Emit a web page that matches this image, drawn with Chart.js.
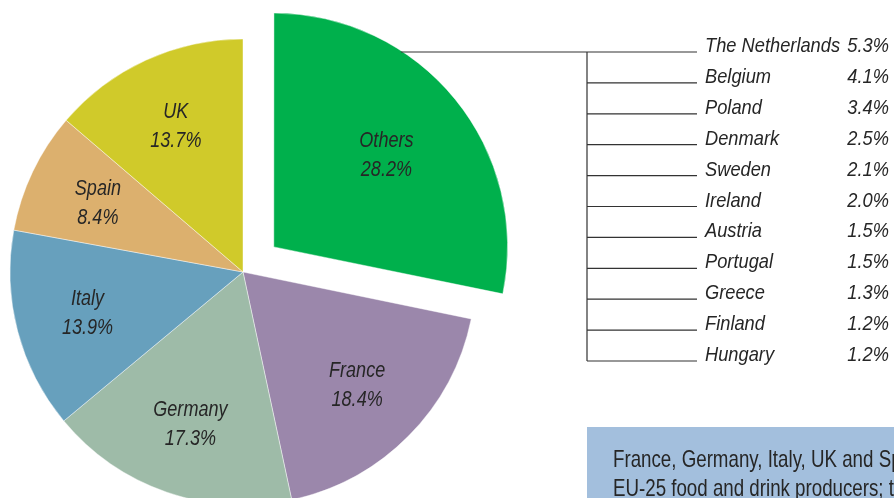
<!DOCTYPE html>
<html>
<head>
<meta charset="utf-8">
<script src="https://cdn.jsdelivr.net/npm/chart.js@4.4.0/dist/chart.umd.min.js"></script>
<style>
    html, body { margin: 0; padding: 0; background: #fff; }
    #wrap { position: relative; width: 894px; height: 498px; overflow: hidden; }
</style>
</head>
<body>
<div id="wrap"><canvas id="pie" width="894" height="498"></canvas></div>
<script>
    "use strict";

    // Shares of EU-25 food and drink production (%)
    const sliceLabels = ["Others", "France", "Germany", "Italy", "Spain", "UK"];
    const sliceShares = [28.2, 18.4, 17.3, 13.9, 8.4, 13.7];
    const sliceColors = ["#00b04c", "#9b87ab", "#9ebba8", "#67a0bd", "#dcb06e", "#d0ca2a"];
    const sliceOffsets = [159, 0, 0, 0, 0, 0];

    // breakdown of "Others"
    const otherCountries = [
        "The Netherlands", "Belgium", "Poland", "Denmark", "Sweden", "Ireland",
        "Austria", "Portugal", "Greece", "Finland", "Hungary",
    ];
    const otherShares = [5.3, 4.1, 3.4, 2.5, 2.1, 2.0, 1.5, 1.5, 1.3, 1.2, 1.2];

    const noteLines = [
        "France, Germany, Italy, UK and Spain are the largest",
        "EU-25 food and drink producers; they account for",
    ];

    const FONT = '"Liberation Sans", Arial, sans-serif';
    const INK = "#262626";

    // condensed text: the original uses a narrow face, so squeeze horizontally
    function narrowText(ctx, text, x, y, sx) {
        ctx.save();
        ctx.translate(x, y);
        ctx.scale(sx, 1);
        ctx.fillText(text, 0, 0);
        ctx.restore();
    }

    // shift applied by ArcElement.draw for an offset slice
    function arcShift(arc) {
        const off = (arc.options.offset || 0) / 4;
        const fix = 1 - Math.sin(Math.min(Math.PI, arc.circumference || 0));
        const mid = (arc.startAngle + arc.endAngle) / 2;
        const d = off + off * fix;
        return { x: arc.x + Math.cos(mid) * d, y: arc.y + Math.sin(mid) * d, mid: mid };
    }

    const sliceText = {
        id: "sliceText",
        afterDatasetsDraw(chart) {
            const ctx = chart.ctx;
            const arcs = chart.getDatasetMeta(0).data;
            ctx.save();
            ctx.fillStyle = INK;
            ctx.textAlign = "center";
            ctx.textBaseline = "middle";
            ctx.font = "italic 22px " + FONT;
            arcs.forEach((arc, i) => {
                const c = arcShift(arc);
                const r = arc.outerRadius * (arc.options.offset ? 0.62 : 0.69);
                const x = c.x + Math.cos(c.mid) * r;
                const y = c.y + Math.sin(c.mid) * r;
                narrowText(ctx, sliceLabels[i], x, y - 14, 0.82);
                narrowText(ctx, sliceShares[i].toFixed(1) + "%", x, y + 15, 0.82);
            });
            ctx.restore();
        },
    };

    const othersList = {
        id: "othersList",
        afterDatasetsDraw(chart) {
            const ctx = chart.ctx;
            const arc = chart.getDatasetMeta(0).data[0];
            const c = arcShift(arc);
            const top = 52, step = 30.9, trunkX = 587, endX = 697;
            const lastY = top + step * (otherCountries.length - 1);

            ctx.save();
            ctx.strokeStyle = "#333";
            ctx.lineWidth = 1.2;
            ctx.beginPath();
            const dy = top - c.y;
            const startX = c.x + Math.sqrt(Math.max(arc.outerRadius * arc.outerRadius - dy * dy, 0)) - 2;
            ctx.moveTo(startX, top);
            ctx.lineTo(endX, top);
            ctx.moveTo(trunkX, top);
            ctx.lineTo(trunkX, lastY);
            for (let i = 1; i < otherCountries.length; i++) {
                const y = top + step * i;
                ctx.moveTo(trunkX, y);
                ctx.lineTo(endX, y);
            }
            ctx.stroke();

            ctx.fillStyle = INK;
            ctx.font = "italic 21px " + FONT;
            ctx.textBaseline = "alphabetic";
            otherCountries.forEach((name, i) => {
                const y = top + step * i;
                ctx.textAlign = "left";
                narrowText(ctx, name, 705, y, 0.87);
                ctx.textAlign = "right";
                narrowText(ctx, otherShares[i].toFixed(1) + "%", 889, y, 0.87);
            });
            ctx.restore();
        },
    };

    const noteBox = {
        id: "noteBox",
        afterDraw(chart) {
            const ctx = chart.ctx;
            ctx.save();
            ctx.fillStyle = "#a3bfdd";
            ctx.fillRect(587, 427, chart.width - 587, chart.height - 427);
            ctx.fillStyle = INK;
            ctx.font = "24px " + FONT;
            ctx.textAlign = "left";
            noteLines.forEach((line, i) => narrowText(ctx, line, 613, 467 + i * 29, 0.78));
            ctx.restore();
        },
    };

    new Chart(document.getElementById("pie"), {
        type: "pie",
        data: {
            labels: sliceLabels,
            datasets: [
                {
                    data: sliceShares,
                    backgroundColor: sliceColors,
                    offset: sliceOffsets,
                    borderColor: "rgba(255,255,255,0.55)",
                    borderWidth: 0.8,
                    clip: false,
                },
            ],
        },
        options: {
            responsive: false,
            animation: false,
            events: [],
            radius: 233,
            layout: { padding: { left: 0, right: 408, top: 46, bottom: 0 } },
            plugins: {
                legend: { display: false },
                tooltip: { enabled: false },
            },
        },
        plugins: [sliceText, othersList, noteBox],
    });
</script>
</body>
</html>
